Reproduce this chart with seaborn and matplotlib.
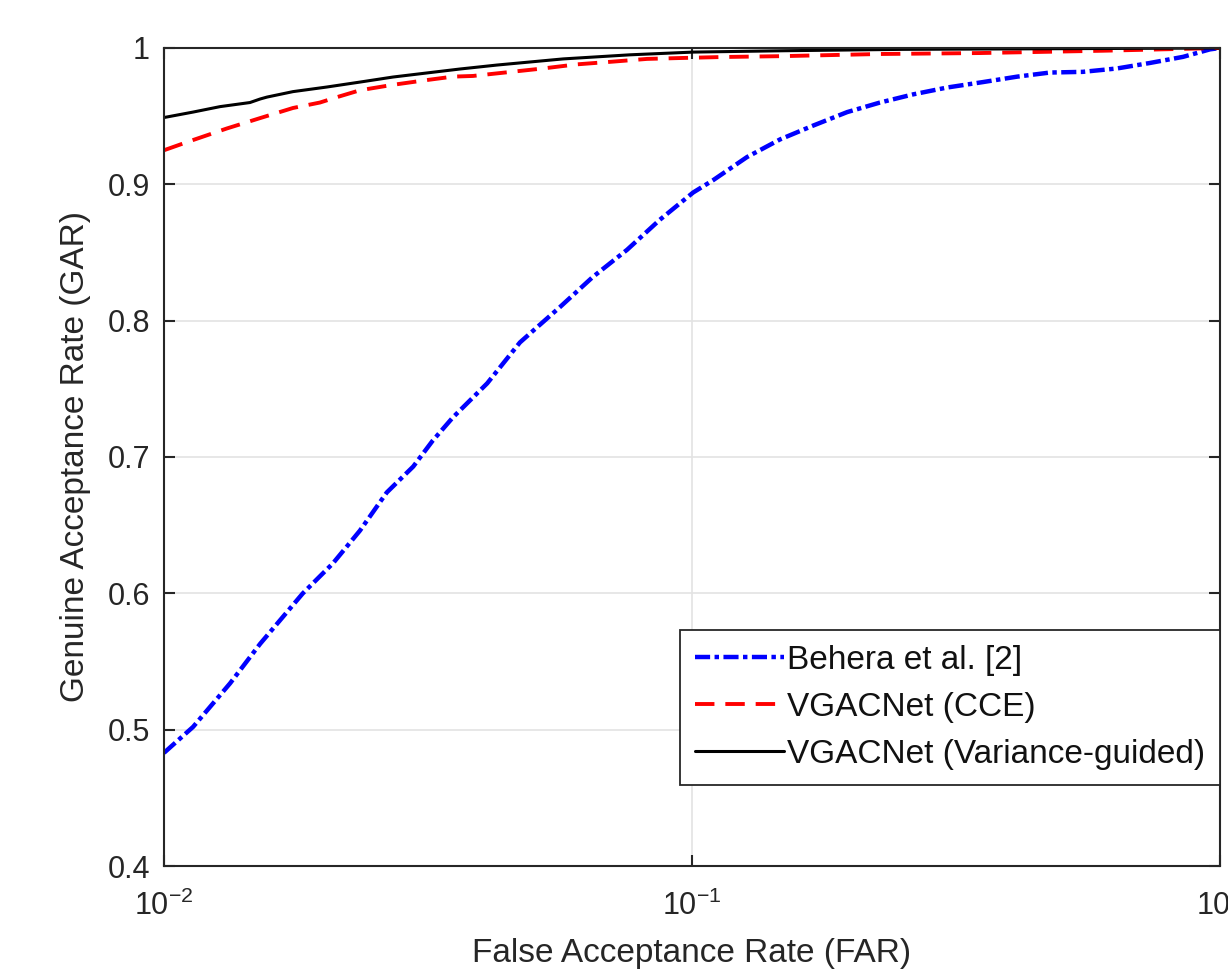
import numpy as np
import pandas as pd
import matplotlib
matplotlib.use("Agg")
import matplotlib.pyplot as plt
import seaborn as sns

# ROC curves (FAR on log scale, GAR linear)
behera_far = [0.0100, 0.01135, 0.01334, 0.01521, 0.01832, 0.02089, 0.02350, 0.02642,
              0.02965, 0.03228, 0.03524, 0.04093, 0.04721, 0.05082, 0.05623, 0.06486,
              0.07534, 0.08690, 0.1005, 0.1096, 0.1271, 0.1469, 0.1694, 0.1968,
              0.2270, 0.2624, 0.3041, 0.3556, 0.4130, 0.4764, 0.5495, 0.6383,
              0.7362, 0.8511, 0.9572, 1.0]
behera_gar = [0.483, 0.502, 0.534, 0.563, 0.600, 0.622, 0.646, 0.674,
              0.693, 0.712, 0.729, 0.754, 0.784, 0.795, 0.810, 0.832,
              0.852, 0.874, 0.894, 0.903, 0.920, 0.933, 0.943, 0.953,
              0.960, 0.966, 0.971, 0.975, 0.979, 0.982, 0.9825, 0.985,
              0.989, 0.9935, 0.999, 1.0]

cce_far = [0.0100, 0.01106, 0.01316, 0.01521, 0.01755, 0.01974, 0.02128, 0.02350,
           0.02714, 0.03148, 0.03524, 0.03848, 0.04520, 0.05222, 0.06053, 0.07080,
           0.08222, 0.09616, 0.1145, 0.1469, 0.2270, 0.3508, 0.6, 1.0]
cce_gar = [0.925, 0.931, 0.941, 0.9486, 0.956, 0.960, 0.964, 0.969,
           0.973, 0.9765, 0.979, 0.9795, 0.9824, 0.985, 0.988, 0.990,
           0.992, 0.9927, 0.9934, 0.994, 0.9956, 0.9963, 0.998, 1.0]

vg_far = [0.0100, 0.01135, 0.01277, 0.01455, 0.01521, 0.01567, 0.01755, 0.02036,
          0.02350, 0.02714, 0.03148, 0.03637, 0.04273, 0.05702, 0.07631, 0.1005,
          0.15, 0.25, 0.5, 1.0]
vg_gar = [0.949, 0.953, 0.957, 0.960, 0.9626, 0.964, 0.968, 0.9714,
          0.975, 0.9787, 0.9817, 0.9846, 0.9875, 0.992, 0.995, 0.997,
          0.998, 0.999, 0.9995, 1.0]

LABELS = ['Behera et al. [2]', 'VGACNet (CCE)', 'VGACNet (Variance-guided)']
Y_TICKS = [0.4, 0.5, 0.6, 0.7, 0.8, 0.9, 1.0]
Y_TICKLABELS = ['0.4', '0.5', '0.6', '0.7', '0.8', '0.9', '1']
X_TICKS = [0.01, 0.1, 1.0]
X_TICKLABELS = [r'$\mathregular{10^{-2}}$', r'$\mathregular{10^{-1}}$', r'$\mathregular{10^{0}}$']

sns.set_theme(style="white")
plt.rcParams['font.family'] = ['Liberation Sans', 'DejaVu Sans']
plt.rcParams['mathtext.fontset'] = 'custom'
plt.rcParams['mathtext.rm'] = 'Liberation Sans'

AX_COL = '#262626'

fig = plt.figure(figsize=(12.28, 9.76), dpi=100)
ax = fig.add_axes([164/1228, 110/976, 1056/1228, 818/976])

sns.lineplot(x=behera_far, y=behera_gar, ax=ax, color='#0000ff', lw=3.2,
             linestyle=(0, (3.4, 1.0, 1.0, 1.0)), label=LABELS[0], sort=False)
sns.lineplot(x=cce_far, y=cce_gar, ax=ax, color='#ff0000', lw=2.8,
             linestyle=(0, (5.0, 2.8)), label=LABELS[1], sort=False)
sns.lineplot(x=vg_far, y=vg_gar, ax=ax, color='#000000', lw=2.2,
             linestyle='-', label=LABELS[2], sort=False)

ax.set_xscale('log')
ax.set_xlim(0.01, 1.0)
ax.set_ylim(0.4, 1.0)
ax.set_xticks(X_TICKS)
ax.set_xticklabels(X_TICKLABELS)
ax.xaxis.set_minor_locator(matplotlib.ticker.NullLocator())
ax.set_yticks(Y_TICKS)
ax.set_yticklabels(Y_TICKLABELS)

ax.grid(True, which='major', color='#e3e3e3', lw=1.2)
ax.set_axisbelow(True)
for s in ax.spines.values():
    s.set_color(AX_COL)
    s.set_linewidth(1.5)
    s.set_visible(True)
ax.tick_params(direction='in', length=8, width=1.5, color=AX_COL,
               labelsize=22, labelcolor=AX_COL, top=True, right=True,
               bottom=True, left=True)
ax.tick_params(axis='x', pad=18)
ax.tick_params(axis='y', pad=10)

ax.set_xlabel('False Acceptance Rate (FAR)', fontsize=24, color=AX_COL, labelpad=11)
ax.set_ylabel('Genuine Acceptance Rate (GAR)', fontsize=24, color=AX_COL, labelpad=12)

leg = ax.legend(loc='lower right', bbox_to_anchor=(1220/1228, 1 - 785/976),
                bbox_transform=fig.transFigure, borderaxespad=0,
                fontsize=24, frameon=True, fancybox=False, framealpha=1,
                edgecolor=AX_COL, handlelength=2.65, handletextpad=0.1,
                labelspacing=0.48, borderpad=0.45)
leg.get_frame().set_linewidth(1.3)
for t in leg.get_texts():
    t.set_color('#111111')

fig.savefig('out.png', dpi=100)
